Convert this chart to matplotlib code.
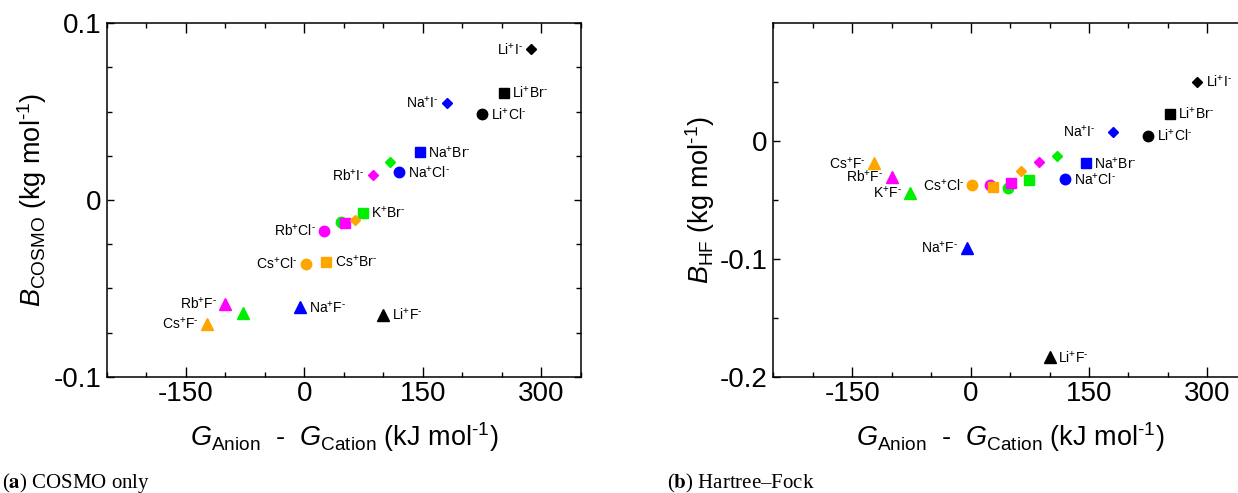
import numpy as np
import matplotlib
matplotlib.use('Agg')
import matplotlib.pyplot as plt
from matplotlib.ticker import FixedLocator, MultipleLocator

# salts in order: Li, Na, K, Rb, Cs  x  F, Cl, Br, I
cations = ['Li', 'Na', 'K', 'Rb', 'Cs']
anions = ['F', 'Cl', 'Br', 'I']

# G_anion - G_cation (kJ/mol)
g_diff = [100, 225, 252, 287,
          -5, 120, 146, 181,
          -77, 47, 74, 109,
          -100, 25, 51, 87,
          -123, 2, 28, 64]

# B coefficients (kg/mol)
b_cosmo = [-0.0651, 0.0485, 0.0607, 0.0853,
           -0.0607, 0.0157, 0.0270, 0.0551,
           -0.0638, -0.0126, -0.0072, 0.0215,
           -0.0589, -0.0174, -0.0132, 0.0140,
           -0.0702, -0.0362, -0.0349, -0.0115]
b_hf = [-0.1835, 0.0044, 0.0230, 0.0504,
        -0.0905, -0.0324, -0.0188, 0.0080,
        -0.0438, -0.0396, -0.0333, -0.0127,
        -0.0302, -0.0375, -0.0356, -0.0175,
        -0.0188, -0.0375, -0.0392, -0.0254]

# which salts get a name, and on which side of the marker
cosmo_labels = {'LiI': 'l', 'LiBr': 'r', 'NaI': 'l', 'LiCl': 'r', 'NaBr': 'r',
                'RbI': 'l', 'NaCl': 'r', 'KBr': 'r', 'RbCl': 'l', 'CsCl': 'l',
                'CsBr': 'r', 'RbF': 'l', 'CsF': 'l', 'NaF': 'r', 'LiF': 'r'}
hf_labels = {'LiI': 'r', 'LiBr': 'r', 'NaI': 'l', 'LiCl': 'r', 'NaBr': 'r',
             'NaCl': 'r', 'CsF': 'l', 'RbF': 'l', 'KF': 'l', 'CsCl': 'l',
             'NaF': 'l', 'LiF': 'r'}

cation_colors = {'Li': 'black', 'Na': '#0000ff', 'K': '#00ee00',
                 'Rb': '#ff00ff', 'Cs': '#ffa500'}
anion_markers = {'F': '^', 'Cl': 'o', 'Br': 's', 'I': 'D'}
marker_sizes = {'F': 8.5, 'Cl': 7.5, 'Br': 6.5, 'I': 5.4}

plt.rcParams['font.family'] = ['Liberation Sans', 'DejaVu Sans']
plt.rcParams['mathtext.fontset'] = 'custom'
plt.rcParams['mathtext.rm'] = 'Liberation Sans'
plt.rcParams['mathtext.it'] = 'Liberation Sans:italic'
plt.rcParams['mathtext.bf'] = 'Liberation Sans:bold'
plt.rcParams['axes.unicode_minus'] = False

fig = plt.figure(figsize=(12.38, 4.93), dpi=100)
ax1 = fig.add_axes([0.0862, 0.2359, 0.3831, 0.7168])
ax2 = fig.add_axes([0.6246, 0.2359, 0.3826, 0.7168])

xlabel = r'$G_{\mathrm{Anion}}$  -  $G_{\mathrm{Cation}}$ (kJ mol$^{\text{-}1}$)'


def draw(ax, yvals, labels):
    i = 0
    for cat in cations:
        for an in anions:
            ax.plot(g_diff[i], yvals[i], marker=anion_markers[an],
                    ms=marker_sizes[an], color=cation_colors[cat],
                    linestyle='none')
            name = cat + an
            if name in labels:
                side = labels[name]
                dx = 6 if side == 'r' else -6
                if name == 'NaI' and ax is ax2:
                    dx = -13
                ax.annotate(cat + r'$^{+}$' + an + r'$^{\text{-}}$',
                            (g_diff[i], yvals[i]), xytext=(dx, 0),
                            textcoords='offset points', fontsize=10,
                            ha='left' if side == 'r' else 'right',
                            va='center')
            i += 1
    ax.set_xlim(-250, 350)
    ax.xaxis.set_major_locator(FixedLocator([-150, 0, 150, 300]))
    ax.xaxis.set_minor_locator(MultipleLocator(50))
    ax.tick_params(which='both', direction='in', top=True, right=True,
                   width=1, labelsize=20)
    ax.tick_params(axis='x', which='major', length=7, pad=3)
    ax.tick_params(axis='y', which='major', length=5, pad=4)
    ax.tick_params(which='minor', length=3.5)
    for s in ax.spines.values():
        s.set_linewidth(1.1)
    ax.set_xlabel(xlabel, fontsize=19.5, va='center')
    ax.xaxis.set_label_coords(0.5, -0.172)


draw(ax1, b_cosmo, cosmo_labels)
ax1.set_ylim(-0.1, 0.1)
ax1.yaxis.set_major_locator(FixedLocator([-0.1, 0, 0.1]))
ax1.yaxis.set_minor_locator(MultipleLocator(0.025))
ax1.set_yticklabels(['-0.1', '0', '0.1'])
ax1.set_ylabel(r'$B_{\mathrm{COSMO}}$ (kg mol$^{\text{-}1}$)', fontsize=19.5, va='center')
ax1.yaxis.set_label_coords(-0.1575, 0.5)

draw(ax2, b_hf, hf_labels)
ax2.set_ylim(-0.2, 0.1)
ax2.yaxis.set_major_locator(FixedLocator([-0.2, -0.1, 0]))
ax2.yaxis.set_minor_locator(FixedLocator([-0.15, -0.05, 0.05]))
ax2.set_yticklabels(['-0.2', '-0.1', '0'])
ax2.set_ylabel(r'$B_{\mathrm{HF}}$ (kg mol$^{\text{-}1}$)', fontsize=19.5, va='center')
ax2.yaxis.set_label_coords(-0.155, 0.5)

fig.text(0.002, 0.010, r'($\mathbf{a}$) COSMO only', fontsize=15,
         family='Liberation Serif', math_fontfamily='stix', va='baseline')
fig.text(0.5388, 0.010, r'($\mathbf{b}$) Hartree–Fock', fontsize=15,
         family='Liberation Serif', math_fontfamily='stix', va='baseline')

fig.savefig('out.png', dpi=100)
